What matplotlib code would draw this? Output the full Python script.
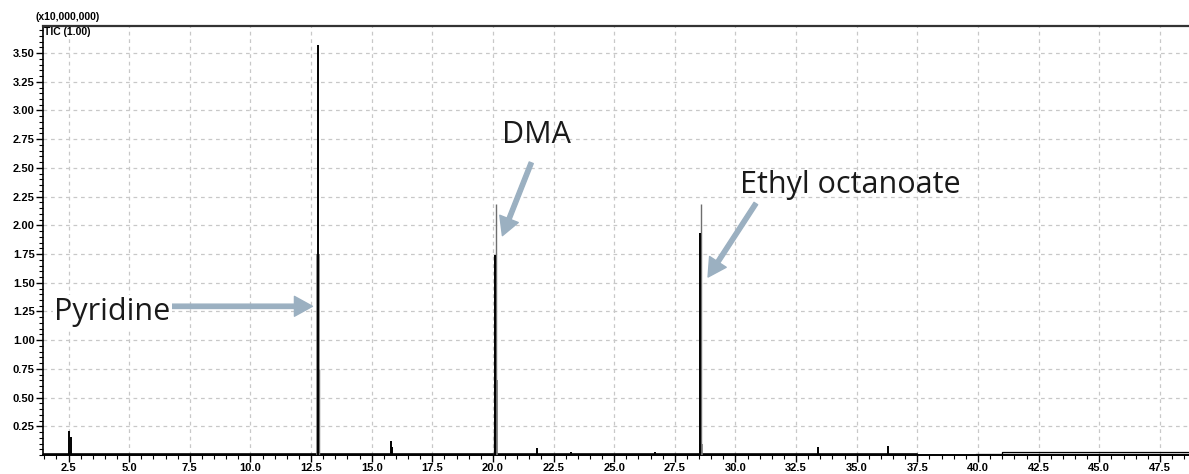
import matplotlib
matplotlib.use("Agg")
import matplotlib.pyplot as plt
from matplotlib.ticker import MultipleLocator, FormatStrFormatter

# Retention time (min) and TIC intensity (x10,000,000) of the main apex strokes
peak_rt = [2.53, 2.60, 12.79, 15.78, 15.82, 20.10, 21.80, 23.20, 26.70, 28.54, 33.40, 36.30]
peak_top = [0.21, 0.16, 3.57, 0.12, 0.07, 1.74, 0.06, 0.03, 0.03, 1.93, 0.07, 0.08]

# Leading edges of the large peaks (thin grey strokes)
front_rt = [12.83, 20.13, 28.57, 20.05]
front_top = [0.75, 2.19, 2.19, 0.20]

# Tailing bands of the large peaks (broad grey strokes)
tail_rt = [12.77, 20.12, 28.56]
tail_top = [1.75, 0.65, 0.10]

# Baseline and late-run drift
base_t = [1.45, 37.5]
base_i = [0.005, 0.005]
drift_t = [39.9, 41.0, 41.0, 48.7]
drift_i = [0.012, 0.012, 0.030, 0.030]
drift2_t = [41.0, 48.7]
drift2_i = [0.013, 0.013]

# Compound labels: name, text anchor (rt, intensity), arrow tail, arrow tip
labels = ["Pyridine", "DMA", "Ethyl octanoate"]
label_xy = [(1.92, 1.18), (20.39, 2.72), (30.18, 2.285)]
arrow_from = [(6.45, 1.295), (21.58, 2.545), (30.84, 2.19)]
arrow_to = [(12.56, 1.295), (20.39, 1.91), (28.87, 1.55)]

fig = plt.figure(figsize=(11.89, 4.74), dpi=100)
ax = fig.add_axes([0.0362, 0.040, 0.9638, 0.905])

ax.set_xlim(1.45, 48.7)
ax.set_ylim(0, 3.735)

ax.plot(base_t, base_i, color="black", lw=1.2, zorder=3)
ax.plot(drift_t, drift_i, color="black", lw=0.9, zorder=3)
ax.plot(drift2_t, drift2_i, color="black", lw=0.9, zorder=3)

ax.vlines(tail_rt, 0, tail_top, color="#7a7a7a", lw=2.6, zorder=3)
ax.vlines(front_rt, 0, front_top, color="#6e6e6e", lw=1.0, zorder=3)
ax.vlines(peak_rt, 0, peak_top, color="black", lw=1.4, zorder=4)

ax.xaxis.set_major_locator(MultipleLocator(2.5))
ax.xaxis.set_minor_locator(MultipleLocator(0.5))
ax.xaxis.set_major_formatter(FormatStrFormatter("%.1f"))
ax.set_yticks([0.25 * k for k in range(1, 15)])
ax.yaxis.set_minor_locator(MultipleLocator(0.05))
ax.yaxis.set_major_formatter(FormatStrFormatter("%.2f"))

ax.tick_params(which="major", direction="out", length=5, width=1.0, color="black")
ax.tick_params(which="minor", direction="out", length=3, width=0.8, color="black")
ax.tick_params(axis="x", which="major", pad=1.0)
ax.tick_params(axis="y", which="major", pad=1)
for lab in ax.get_xticklabels() + ax.get_yticklabels():
    lab.set_fontfamily("Liberation Sans")
    lab.set_fontweight("bold")
    lab.set_fontsize(8)

ax.grid(True, which="major", color="#c8c8c8", linestyle=(0, (3, 3)), lw=0.9)
ax.set_axisbelow(True)

ax.spines["right"].set_visible(False)
ax.spines["top"].set_linewidth(1.6)
ax.spines["top"].set_color("#333333")
ax.spines["left"].set_linewidth(1.2)
ax.spines["bottom"].set_linewidth(1.4)

fig.text(35 / 1189, 1 - 20 / 474, "(x10,000,000)", fontsize=7.5, fontweight="bold",
         family="Liberation Sans", va="baseline", ha="left")
fig.text(44 / 1189, 1 - 35 / 474, "TIC (1.00)", fontsize=7.5, fontweight="bold",
         family="Liberation Sans", va="baseline", ha="left")

arrow_color = "#9bb0c1"
for name, (tx, ty), src, dst in zip(labels, label_xy, arrow_from, arrow_to):
    ax.annotate("", xy=dst, xytext=src, xycoords="data", textcoords="data",
                arrowprops=dict(arrowstyle="simple,head_length=1.0,head_width=1.1,tail_width=0.24",
                                color=arrow_color, mutation_scale=13, shrinkA=0, shrinkB=0),
                zorder=5)
    ax.text(tx, ty, name, fontsize=22, family="Open Sans", color="#1a1a1a",
            ha="left", va="baseline", zorder=6,
            bbox=dict(facecolor="white", edgecolor="none", pad=1.0) if name == "Pyridine" else None)

fig.savefig("out.png", dpi=100)
